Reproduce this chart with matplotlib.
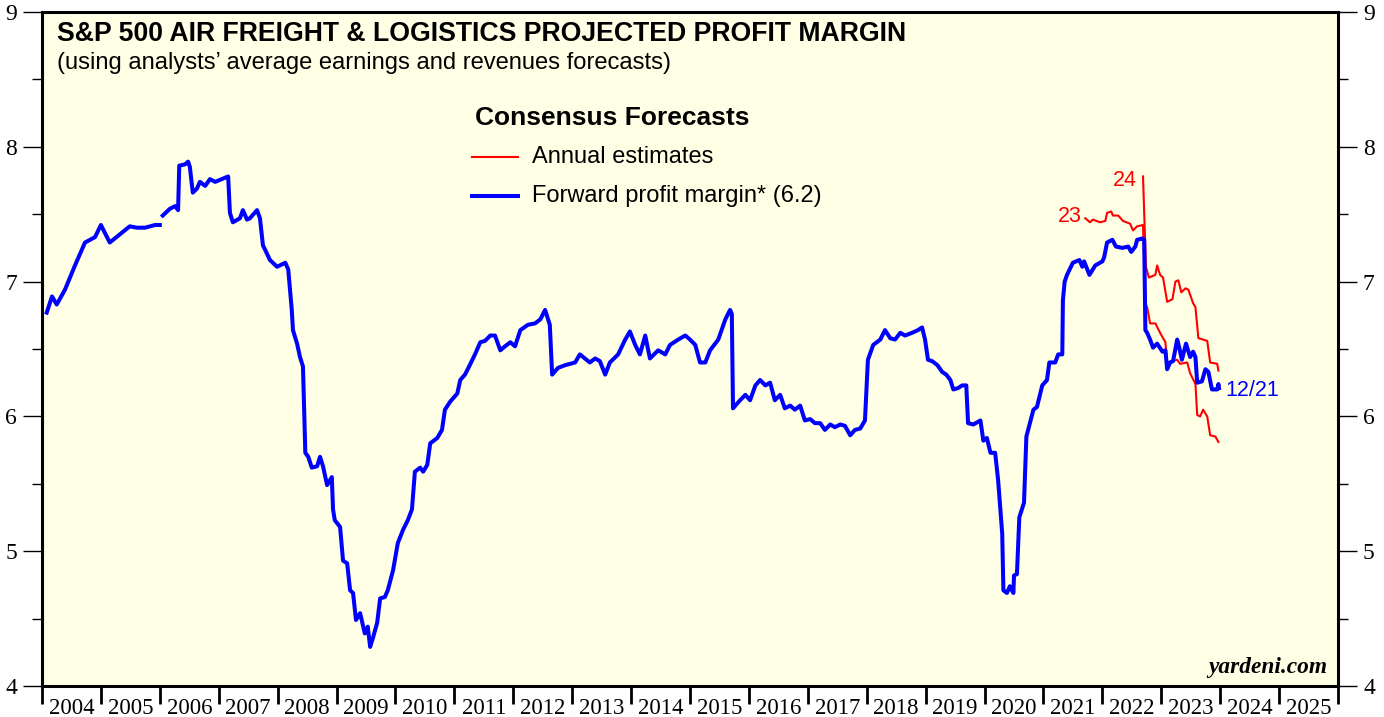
import numpy as np
import matplotlib
matplotlib.use("Agg")
import matplotlib.pyplot as plt
from matplotlib.ticker import FixedLocator, NullFormatter

# forward profit margin (blue), NaN marks the gap in early 2006
blue_years = [
    2004.08, 2004.17, 2004.25, 2004.39, 2004.56, 2004.73, 2004.90, 2005.00, 2005.15, 2005.49,
    2005.61, 2005.75, 2005.92, 2006.00, np.nan,
    2006.05, 2006.17, 2006.26, 2006.31, 2006.33, 2006.43, 2006.48, 2006.51, 2006.56, 2006.63,
    2006.68, 2006.77, 2006.85, 2006.94, 2007.16, 2007.19, 2007.24, 2007.36, 2007.41, 2007.48,
    2007.53, 2007.65, 2007.70, 2007.75, 2007.87, 2007.99, 2008.13, 2008.18, 2008.24, 2008.26,
    2008.33, 2008.38, 2008.43, 2008.47, 2008.52, 2008.58, 2008.67, 2008.72, 2008.77, 2008.84,
    2008.92, 2008.94, 2008.97, 2009.06, 2009.11, 2009.18, 2009.23, 2009.28, 2009.33, 2009.40,
    2009.48, 2009.53, 2009.57, 2009.62, 2009.69, 2009.74, 2009.82, 2009.87, 2009.96, 2010.04,
    2010.13, 2010.21, 2010.28, 2010.33, 2010.42, 2010.47, 2010.54, 2010.59, 2010.71, 2010.79,
    2010.84, 2010.93, 2011.05, 2011.10, 2011.18, 2011.25, 2011.35, 2011.44, 2011.52, 2011.61,
    2011.69, 2011.78, 2011.86, 2011.95, 2012.03, 2012.12, 2012.25, 2012.37, 2012.46, 2012.54,
    2012.59, 2012.62, 2012.66, 2012.76, 2012.88, 2013.05, 2013.13, 2013.30, 2013.39, 2013.47,
    2013.56, 2013.64, 2013.78, 2013.90, 2013.98, 2014.07, 2014.15, 2014.24, 2014.32, 2014.46,
    2014.58, 2014.66, 2014.80, 2014.92, 2015.00, 2015.09, 2015.17, 2015.26, 2015.34, 2015.48,
    2015.60, 2015.68, 2015.71, 2015.73, 2015.85, 2015.94, 2016.02, 2016.11, 2016.19, 2016.28,
    2016.36, 2016.44, 2016.53, 2016.61, 2016.70, 2016.78, 2016.87, 2016.95, 2017.04, 2017.12,
    2017.21, 2017.29, 2017.38, 2017.46, 2017.55, 2017.63, 2017.72, 2017.80, 2017.89, 2017.97,
    2018.02, 2018.11, 2018.23, 2018.31, 2018.40, 2018.48, 2018.57, 2018.65, 2018.77, 2018.87,
    2018.94, 2018.99, 2019.04, 2019.11, 2019.20, 2019.28, 2019.35, 2019.42, 2019.47, 2019.55,
    2019.62, 2019.69, 2019.72, 2019.81, 2019.93, 2019.98, 2020.04, 2020.10, 2020.18, 2020.23,
    2020.30, 2020.32, 2020.38, 2020.43, 2020.49, 2020.50, 2020.55, 2020.59, 2020.67, 2020.71,
    2020.77, 2020.83, 2020.89, 2020.98, 2021.06, 2021.10, 2021.20, 2021.25, 2021.32, 2021.33,
    2021.36, 2021.40, 2021.50, 2021.61, 2021.66, 2021.69, 2021.78, 2021.88, 2022.00, 2022.03,
    2022.08, 2022.17, 2022.23, 2022.34, 2022.44, 2022.49, 2022.56, 2022.59, 2022.68, 2022.71,
    2022.73, 2022.76, 2022.81, 2022.86, 2022.93, 2023.02, 2023.07, 2023.10, 2023.15, 2023.20,
    2023.27, 2023.30, 2023.35, 2023.42, 2023.49, 2023.54, 2023.58, 2023.61, 2023.69, 2023.75,
    2023.80, 2023.86, 2023.95, 2023.97, 2023.98,
]
blue_vals = [
    6.77, 6.89, 6.83, 6.94, 7.12, 7.29, 7.33, 7.42, 7.29, 7.41,
    7.40, 7.40, 7.42, 7.42, np.nan,
    7.49, 7.54, 7.56, 7.53, 7.86, 7.87, 7.89, 7.85, 7.66, 7.69,
    7.74, 7.71, 7.76, 7.74, 7.78, 7.51, 7.44, 7.47, 7.53, 7.46,
    7.47, 7.53, 7.47, 7.27, 7.16, 7.11, 7.14, 7.09, 6.79, 6.64,
    6.54, 6.44, 6.37, 5.73, 5.70, 5.62, 5.63, 5.70, 5.63, 5.49,
    5.55, 5.31, 5.23, 5.18, 4.93, 4.91, 4.71, 4.69, 4.49, 4.54,
    4.39, 4.44, 4.29, 4.36, 4.47, 4.65, 4.66, 4.71, 4.86, 5.06,
    5.16, 5.23, 5.31, 5.59, 5.62, 5.59, 5.64, 5.80, 5.84, 5.90,
    6.05, 6.11, 6.17, 6.27, 6.31, 6.37, 6.46, 6.55, 6.56, 6.60,
    6.60, 6.49, 6.52, 6.55, 6.52, 6.64, 6.68, 6.69, 6.72, 6.79,
    6.72, 6.68, 6.31, 6.36, 6.38, 6.40, 6.46, 6.40, 6.43, 6.41,
    6.31, 6.40, 6.46, 6.57, 6.63, 6.53, 6.46, 6.60, 6.43, 6.49,
    6.46, 6.53, 6.57, 6.60, 6.57, 6.53, 6.40, 6.40, 6.49, 6.57,
    6.72, 6.79, 6.76, 6.06, 6.12, 6.16, 6.12, 6.23, 6.27, 6.23,
    6.25, 6.12, 6.16, 6.06, 6.08, 6.05, 6.08, 5.97, 5.98, 5.95,
    5.95, 5.90, 5.94, 5.92, 5.94, 5.93, 5.86, 5.90, 5.91, 5.97,
    6.42, 6.53, 6.57, 6.64, 6.58, 6.57, 6.62, 6.60, 6.62, 6.64,
    6.66, 6.57, 6.42, 6.41, 6.38, 6.33, 6.31, 6.27, 6.20, 6.21,
    6.23, 6.23, 5.95, 5.94, 5.97, 5.82, 5.84, 5.73, 5.73, 5.53,
    5.13, 4.71, 4.69, 4.74, 4.69, 4.82, 4.83, 5.25, 5.36, 5.85,
    5.95, 6.05, 6.07, 6.23, 6.27, 6.40, 6.40, 6.46, 6.46, 6.86,
    7.00, 7.05, 7.14, 7.16, 7.11, 7.15, 7.05, 7.12, 7.15, 7.18,
    7.29, 7.31, 7.26, 7.25, 7.26, 7.22, 7.26, 7.31, 7.32, 7.31,
    6.64, 6.62, 6.57, 6.51, 6.54, 6.48, 6.49, 6.35, 6.40, 6.41,
    6.57, 6.52, 6.42, 6.54, 6.44, 6.48, 6.44, 6.25, 6.26, 6.35,
    6.33, 6.20, 6.20, 6.24, 6.21,
]

# annual estimates (red)
est23_years = [
    2021.71, 2021.79, 2021.84, 2021.96, 2022.05, 2022.08, 2022.15, 2022.18, 2022.27, 2022.35,
    2022.47, 2022.52, 2022.59, 2022.69, 2022.73, 2022.76, 2022.81, 2022.90, 2022.98, 2023.07,
    2023.10, 2023.27, 2023.32, 2023.44, 2023.49, 2023.58, 2023.61, 2023.66, 2023.71, 2023.78,
    2023.83, 2023.92, 2023.97,
]
est23_vals = [
    7.47, 7.44, 7.46, 7.44, 7.45, 7.51, 7.52, 7.49, 7.49, 7.45,
    7.43, 7.38, 7.41, 7.42, 6.84, 6.81, 6.69, 6.69, 6.62, 6.55,
    6.40, 6.42, 6.39, 6.40, 6.32, 6.24, 6.01, 6.00, 6.05, 6.00,
    5.86, 5.85, 5.81,
]
est24_years = [
    2022.69, 2022.74, 2022.79, 2022.90, 2022.93, 2022.98, 2023.03, 2023.10, 2023.19, 2023.24,
    2023.29, 2023.34, 2023.41, 2023.46, 2023.54, 2023.58, 2023.63, 2023.71, 2023.78, 2023.83,
    2023.95, 2023.97,
]
est24_vals = [
    7.78, 7.11, 7.03, 7.05, 7.12, 7.05, 7.03, 6.85, 6.87, 7.00,
    7.01, 6.92, 6.95, 6.94, 6.84, 6.81, 6.58, 6.57, 6.56, 6.40,
    6.39, 6.34,
]

year_labels = list(range(2004, 2026))

BLUE = "#0000ff"
RED = "#ff0000"
BG = "#ffffe5"
SANS = "Liberation Sans"
SERIF = "Liberation Serif"

fig = plt.figure(figsize=(13.84, 7.17), dpi=100)
ax = fig.add_axes([42 / 1384, 1 - 686 / 717, 1296 / 1384, 674 / 717])
ax.set_facecolor(BG)

ax.plot(est23_years, est23_vals, color=RED, lw=1.5, zorder=3)
ax.plot(est24_years, est24_vals, color=RED, lw=1.5, zorder=3)
ax.plot(blue_years, blue_vals, color=BLUE, lw=2.9, zorder=4)

ax.set_xlim(2004, 2026)
ax.set_ylim(4, 9)

# y axis on both sides
ax.yaxis.set_major_locator(FixedLocator(range(4, 10)))
ax.yaxis.set_minor_locator(FixedLocator(np.arange(4.5, 9, 1.0)))
ax.tick_params(axis="y", which="major", direction="out", length=14, width=1,
               left=True, right=True, labelleft=True, labelright=True,
               labelsize=17, pad=4)
ax.tick_params(axis="y", which="minor", direction="out", length=7, width=1,
               left=True, right=True)
for lab in ax.get_yticklabels():
    lab.set_family(SERIF)

# year boundaries as ticks, labels centred between them
ax.xaxis.set_major_locator(FixedLocator(range(2004, 2027)))
ax.xaxis.set_major_formatter(NullFormatter())
ax.xaxis.set_minor_locator(FixedLocator([y + 0.5 for y in year_labels]))
ax.set_xticklabels([str(y) for y in year_labels], minor=True)
ax.tick_params(axis="x", which="major", direction="out", length=13, width=2)
ax.tick_params(axis="x", which="minor", length=0, labelsize=16.5, pad=9)
for lab in ax.get_xticklabels(minor=True):
    lab.set_family(SERIF)

for sp in ax.spines.values():
    sp.set_linewidth(2.2)

# title block
ax.text(0.0116, 0.968, "S&P 500 AIR FREIGHT & LOGISTICS PROJECTED PROFIT MARGIN",
        transform=ax.transAxes, fontsize=19.2, fontweight="bold", family=SANS,
        ha="left", va="center")
ax.text(0.0116, 0.924, "(using analysts\u2019 average earnings and revenues forecasts)",
        transform=ax.transAxes, fontsize=17.1, family=SANS, ha="left", va="center")

# hand-made legend
ax.text(0.334, 0.843, "Consensus Forecasts", transform=ax.transAxes, fontsize=19,
        fontweight="bold", family=SANS, ha="left", va="center")
ax.plot([0.332, 0.367], [0.785, 0.785], transform=ax.transAxes, color=RED, lw=1.5)
ax.text(0.378, 0.785, "Annual estimates", transform=ax.transAxes, fontsize=17,
        family=SANS, ha="left", va="center")
ax.plot([0.332, 0.367], [0.727, 0.727], transform=ax.transAxes, color=BLUE, lw=2.9)
ax.text(0.378, 0.727, "Forward profit margin* (6.2)", transform=ax.transAxes,
        fontsize=17, family=SANS, ha="left", va="center")

# line labels
ax.text(2021.65, 7.48, "23", color=RED, fontsize=15.5, family=SANS, ha="right", va="center")
ax.text(2022.58, 7.75, "24", color=RED, fontsize=15.5, family=SANS, ha="right", va="center")
ax.text(2024.09, 6.19, "12/21", color=BLUE, fontsize=15.5, family=SANS, ha="left", va="center")

ax.text(0.992, 0.027, "yardeni.com", transform=ax.transAxes, fontsize=16.8,
        fontweight="bold", fontstyle="italic", family=SERIF, ha="right", va="center")

fig.savefig("out.png", dpi=100, facecolor="white")
